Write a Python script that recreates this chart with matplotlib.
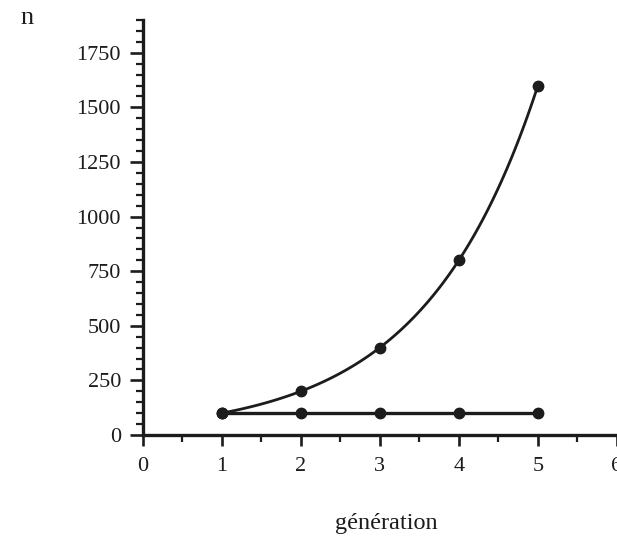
import numpy as np
import matplotlib
matplotlib.use("Agg")
import matplotlib.pyplot as plt
from matplotlib.ticker import MultipleLocator

# Population size per generation
generations = [1, 2, 3, 4, 5]
n_growth = [100, 200, 400, 800, 1600]
n_constant = [100, 100, 100, 100, 100]

x_ticks = [0, 1, 2, 3, 4, 5, 6]
y_ticks = [0, 250, 500, 750, 1000, 1250, 1500, 1750]

ink = "#1c1c1c"
plt.rcParams["font.family"] = ["Liberation Serif", "DejaVu Serif"]

fig = plt.figure(figsize=(6.17, 5.36), dpi=100)
ax = fig.add_axes([0.231, 0.1884, 0.769, 0.7743])

# smooth curve through the growth points (geometric steps between generations)
xs, ys = [], []
for i in range(len(generations) - 1):
    t = np.linspace(0, 1, 30, endpoint=False)
    xs.extend(generations[i] + t * (generations[i + 1] - generations[i]))
    ys.extend(n_growth[i] * (n_growth[i + 1] / n_growth[i]) ** t)
xs.append(generations[-1])
ys.append(n_growth[-1])

ax.plot(xs, ys, color=ink, lw=2.0, solid_capstyle="round")
ax.plot(generations, n_growth, "o", color=ink, ms=7.5)
ax.plot(generations, n_constant, "-o", color=ink, lw=2.4, ms=7.5)

ax.set_xlim(0, 6)
ax.set_ylim(0, 1900)
ax.set_xticks(x_ticks)
ax.set_yticks(y_ticks)
ax.xaxis.set_minor_locator(MultipleLocator(0.5))
ax.yaxis.set_minor_locator(MultipleLocator(50))

for s in ("top", "right"):
    ax.spines[s].set_visible(False)
for s in ("left", "bottom"):
    ax.spines[s].set_linewidth(2.4)
    ax.spines[s].set_color(ink)

ax.tick_params(axis="y", which="major", direction="out", length=9.5, width=1.9,
               colors=ink, labelsize=16, pad=6)
ax.tick_params(axis="y", which="minor", direction="out", length=5, width=1.6, colors=ink)
ax.tick_params(axis="x", which="major", direction="out", length=8, width=1.9,
               colors=ink, labelsize=16, pad=8)
ax.tick_params(axis="x", which="minor", direction="out", length=5, width=1.6, colors=ink)

fig.text(27 / 617, 1 - 18 / 536, "n", fontsize=19, color=ink, ha="center", va="center")
fig.text(386 / 617, 1 - 524 / 536, "génération", fontsize=17.5, color=ink,
         ha="center", va="center")

fig.savefig("out.png", dpi=100)
